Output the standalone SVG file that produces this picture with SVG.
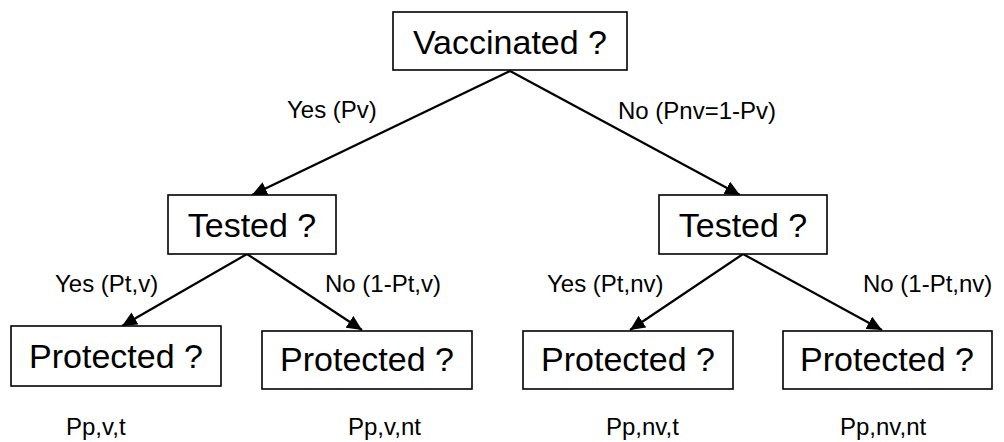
<svg xmlns="http://www.w3.org/2000/svg" width="1004" height="442" viewBox="0 0 1004 442">
<style>
.box{fill:#fff;stroke:#000;stroke-width:1.6}
.nt{font-family:"Liberation Sans",Arial,sans-serif;font-size:34px;fill:#000;text-anchor:middle}
.lb{font-family:"Liberation Sans",Arial,sans-serif;font-size:24px;fill:#000}
.cn{stroke:#000;stroke-width:2.2;fill:none;marker-end:url(#ah)}
</style>
<defs>
<marker id="ah" markerUnits="userSpaceOnUse" markerWidth="16" markerHeight="14" refX="15" refY="7" orient="auto">
<path d="M0,0 L15,7 L0,14 Z" fill="#000"/>
</marker>
</defs>
<rect width="1004" height="442" fill="#fff"/>
<g id="connectors">
<line class="cn" x1="510" y1="71" x2="252" y2="195"/>
<line class="cn" x1="510" y1="71" x2="740" y2="195"/>
<line class="cn" x1="247" y1="254" x2="122" y2="326"/>
<line class="cn" x1="247" y1="254" x2="362" y2="330"/>
<line class="cn" x1="743" y1="254" x2="630" y2="330"/>
<line class="cn" x1="743" y1="254" x2="882" y2="330"/>
</g>
<g id="vaccinated"><rect class="box" x="393" y="12" width="234" height="58"/><text class="nt" x="510" y="54">Vaccinated ?</text></g>
<g id="tested-v"><rect class="box" x="168" y="195" width="168" height="59"/><text class="nt" x="252" y="237">Tested ?</text></g>
<g id="tested-nv"><rect class="box" x="659" y="195" width="168" height="59"/><text class="nt" x="743" y="237">Tested ?</text></g>
<g id="protected-vt"><rect class="box" x="11" y="326" width="210" height="60"/><text class="nt" x="116" y="368">Protected ?</text></g>
<g id="protected-vnt"><rect class="box" x="262" y="331" width="210" height="58"/><text class="nt" x="367" y="371">Protected ?</text></g>
<g id="protected-nvt"><rect class="box" x="523" y="331" width="210" height="58"/><text class="nt" x="628" y="371">Protected ?</text></g>
<g id="protected-nvnt"><rect class="box" x="783" y="331" width="209" height="58"/><text class="nt" x="887" y="371">Protected ?</text></g>
<g id="labels">
<text class="lb" x="287" y="118">Yes (Pv)</text>
<text class="lb" x="618" y="119">No (Pnv=1-Pv)</text>
<text class="lb" x="55" y="292">Yes (Pt,v)</text>
<text class="lb" x="325" y="292">No (1-Pt,v)</text>
<text class="lb" x="547" y="292">Yes (Pt,nv)</text>
<text class="lb" x="863" y="292">No (1-Pt,nv)</text>
<text class="lb" x="66" y="435">Pp,v,t</text>
<text class="lb" x="348" y="435">Pp,v,nt</text>
<text class="lb" x="606" y="435">Pp,nv,t</text>
<text class="lb" x="840" y="435">Pp,nv,nt</text>
</g>
</svg>
